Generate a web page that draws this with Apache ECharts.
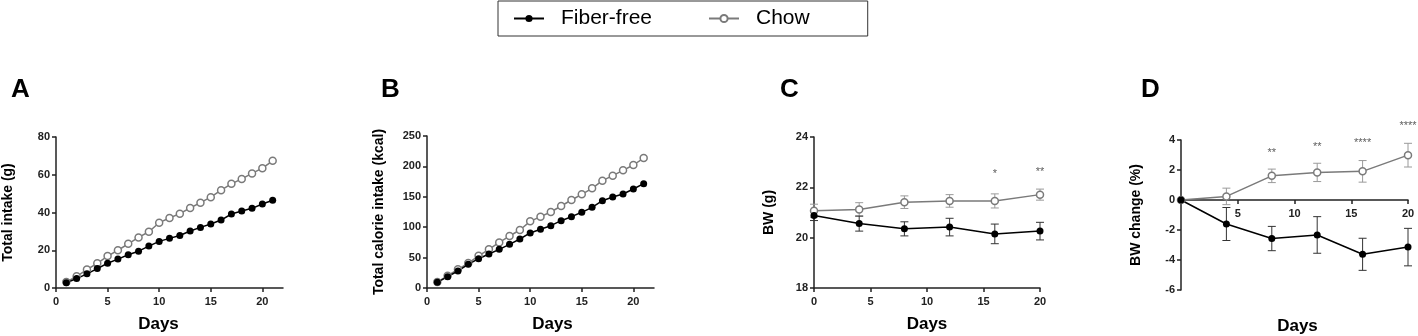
<!DOCTYPE html>
<html>
<head>
<meta charset="utf-8">
<script src="https://cdn.jsdelivr.net/npm/echarts@6/dist/echarts.min.js"></script>
<style>
  html, body { margin: 0; padding: 0; background: #fff; }
  #chart { width: 1418px; height: 336px; }
</style>
</head>
<body>
<div id="chart"></div>
<script>
// cumulative intake, days 1..21
const intakeDays = [1, 2, 3, 4, 5, 6, 7, 8, 9, 10, 11, 12, 13, 14, 15, 16, 17, 18, 19, 20, 21]
const intakeFiber = [2.8, 5.0, 7.5, 10.3, 13.1, 15.3, 17.6, 19.5, 22.2, 24.7, 26.3, 27.8, 30.2, 32.1, 33.9, 36.0, 39.2, 40.8, 42.2, 44.5, 46.5]
const intakeChow = [3.2, 6.2, 9.8, 13.1, 16.9, 20.0, 23.4, 26.8, 29.8, 34.6, 37.1, 39.4, 42.4, 45.2, 48.1, 51.8, 55.2, 57.8, 60.7, 63.5, 67.4]
const kcalFiber = [9.3, 18.6, 28, 39, 48.2, 56, 63.6, 71.8, 80.6, 90.5, 96.5, 102.5, 110.7, 117.3, 124.5, 132.7, 143.6, 149.7, 154.6, 162.8, 171.6]
const kcalChow = [9.8, 20.3, 30.7, 41, 53, 63.6, 75, 85.5, 95.4, 109.6, 117.3, 125, 134.9, 144.7, 154, 164, 176.5, 184.8, 193.5, 202.3, 213.8]

// body weight, days 0..20
const bwDays = [0, 4, 8, 12, 16, 20]
const bwFiber = [20.88, 20.56, 20.35, 20.42, 20.15, 20.26]
const bwFiberErr = [0.2, 0.3, 0.28, 0.35, 0.39, 0.35]
const bwChow = [21.07, 21.12, 21.41, 21.46, 21.46, 21.71]
const bwChowErr = [0.26, 0.27, 0.25, 0.25, 0.28, 0.22]
const chgFiber = [0, -1.6, -2.57, -2.33, -3.62, -3.14]
const chgFiberErr = [0, 1.1, 0.81, 1.22, 1.07, 1.25]
const chgChow = [0, 0.24, 1.61, 1.84, 1.91, 2.99]
const chgChowErr = [0, 0.55, 0.45, 0.61, 0.72, 0.79]

// significance marks
const starsC = [[16, 22.55, '*'], [20, 22.6, '**']]
const starsD = [[8, 3.15, '**'], [12, 3.55, '**'], [16, 3.77, '****'], [20, 4.92, '****']]

const panelLetters = ['A', 'B', 'C', 'D']
const yNames = ['Total intake (g)', 'Total calorie intake (kcal)', 'BW (g)', 'BW change (%)']

const FIBER = '#000'
const CHOW = '#7a7a7a'
const AXIS = '#222'
const FONT = '"Liberation Sans", Arial, sans-serif'

const zip = (xs, ys, es) => xs.map((x, i) => es ? [x, ys[i], es[i]] : [x, ys[i]])

const grids = [
  { left: 56, top: 137, width: 227, height: 151 },
  { left: 427, top: 136, width: 227, height: 152 },
  { left: 814, top: 137, width: 226, height: 151 },
  { left: 1181, top: 140, width: 227, height: 150 },
]
const yRanges = [[0, 80, 20], [0, 250, 50], [18, 24, 2], [-6, 4, 2]]

function axisBase() {
  return {
    type: 'value',
    axisLine: { show: true, onZero: false, lineStyle: { color: AXIS, width: 1.5 } },
    axisTick: { show: true, length: 4, lineStyle: { color: AXIS, width: 1.5 } },
    axisLabel: { color: AXIS, fontFamily: FONT, fontWeight: 'bold', fontSize: 11 },
    splitLine: { show: false },
    nameTextStyle: { color: '#000', fontFamily: FONT, fontWeight: 'bold' },
  }
}

function xAxis(idx, max, ticks, gap, pad) {
  const a = axisBase()
  // D's x axis sits at y = 0 of its value axis
  const [ymin, ymax] = yRanges[idx]
  const zeroOffset = ymin < 0 ? -grids[idx].height * (0 - ymin) / (ymax - ymin) : 0
  return Object.assign(a, {
    gridIndex: idx, min: 0, max: max, offset: zeroOffset,
    name: 'Days', nameLocation: 'middle', nameGap: gap,
    nameTextStyle: Object.assign({}, a.nameTextStyle, { fontSize: 17, padding: pad }),
    axisTick: Object.assign({}, a.axisTick, { customValues: ticks }),
    axisLabel: Object.assign({}, a.axisLabel, { customValues: ticks, margin: 8 }),
  })
}

function yAxis(idx, gap) {
  const a = axisBase()
  const [min, max, interval] = yRanges[idx]
  return Object.assign(a, {
    gridIndex: idx, min: min, max: max, interval: interval,
    name: yNames[idx], nameLocation: 'middle', nameGap: gap,
    nameTextStyle: Object.assign({}, a.nameTextStyle, { fontSize: 14 }),
    axisLabel: Object.assign({}, a.axisLabel, { margin: 6 }),
  })
}

function lineSeries(name, idx, data) {
  const chow = name === 'Chow'
  return {
    name: name, type: 'line', xAxisIndex: idx, yAxisIndex: idx, data: data,
    symbol: 'circle', symbolSize: 7, z: 5,
    lineStyle: { color: chow ? CHOW : FIBER, width: 1.5 },
    itemStyle: chow ? { color: '#fff', borderColor: CHOW, borderWidth: 1.5 } : { color: FIBER },
  }
}

function errSeries(idx, data, color) {
  return {
    type: 'custom', xAxisIndex: idx, yAxisIndex: idx, data: data, z: 3, silent: true,
    renderItem: (params, api) => {
      const x = api.value(0), y = api.value(1), e = api.value(2)
      const hi = api.coord([x, y + e])
      const lo = api.coord([x, y - e])
      const st = { stroke: color, lineWidth: 1 }
      return {
        type: 'group',
        children: [
          { type: 'line', shape: { x1: hi[0], y1: hi[1], x2: lo[0], y2: lo[1] }, style: st },
          { type: 'line', shape: { x1: hi[0] - 4, y1: hi[1], x2: hi[0] + 4, y2: hi[1] }, style: st },
          { type: 'line', shape: { x1: lo[0] - 4, y1: lo[1], x2: lo[0] + 4, y2: lo[1] }, style: st },
        ],
      }
    },
  }
}

function starSeries(idx, data) {
  return {
    type: 'scatter', xAxisIndex: idx, yAxisIndex: idx, data: data, symbolSize: 0, clip: false, silent: true,
    label: { show: true, position: 'inside', formatter: p => p.value[2], color: '#333', fontFamily: FONT, fontSize: 11 },
  }
}

const chart = echarts.init(document.getElementById('chart'))
chart.setOption({
  animation: false,
  backgroundColor: '#fff',
  title: [
    { left: 11, top: 77 }, { left: 381, top: 77 }, { left: 780, top: 77 }, { left: 1141, top: 77 },
  ].map((p, i) => Object.assign(p, {
    text: panelLetters[i], padding: 0,
    textStyle: { fontFamily: FONT, fontWeight: 'bold', fontSize: 26, color: '#000' },
  })),
  legend: {
    data: ['Fiber-free', 'Chow'],
    left: 498, top: 1,
    padding: [7, 58, 7, 15],
    borderColor: '#333', borderWidth: 1,
    itemWidth: 30, itemHeight: 9, itemGap: 56,
    textStyle: { fontFamily: FONT, fontSize: 21, color: '#000', padding: [0, 0, 0, 12] },
  },
  grid: grids.map(g => Object.assign({}, g, { outerBoundsMode: 'none' })),
  xAxis: [
    xAxis(0, 22, [0, 5, 10, 15, 20], 28, [0, 22, 0, 0]),
    xAxis(1, 22, [0, 5, 10, 15, 20], 28, [0, 0, 0, 24]),
    xAxis(2, 20, [0, 5, 10, 15, 20], 28, [0, 0, 0, 0]),
    xAxis(3, 20, [5, 10, 15, 20], 118, [0, 0, 0, 6]),
  ],
  yAxis: [
    yAxis(0, 41),
    yAxis(1, 41),
    yAxis(2, 38),
    yAxis(3, 38),
  ],
  series: [
    lineSeries('Chow', 0, zip(intakeDays, intakeChow)),
    lineSeries('Fiber-free', 0, zip(intakeDays, intakeFiber)),
    lineSeries('Chow', 1, zip(intakeDays, kcalChow)),
    lineSeries('Fiber-free', 1, zip(intakeDays, kcalFiber)),
    errSeries(2, zip(bwDays, bwChow, bwChowErr), '#9a9a9a'),
    errSeries(2, zip(bwDays, bwFiber, bwFiberErr), '#333'),
    lineSeries('Chow', 2, zip(bwDays, bwChow)),
    lineSeries('Fiber-free', 2, zip(bwDays, bwFiber)),
    starSeries(2, starsC),
    errSeries(3, zip(bwDays, chgChow, chgChowErr), '#9a9a9a'),
    errSeries(3, zip(bwDays, chgFiber, chgFiberErr), '#333'),
    lineSeries('Chow', 3, zip(bwDays, chgChow)),
    lineSeries('Fiber-free', 3, zip(bwDays, chgFiber)),
    starSeries(3, starsD),
  ],
})
</script>
</body>
</html>
